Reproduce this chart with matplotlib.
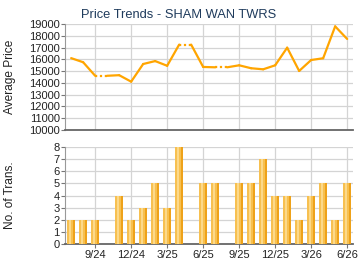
import numpy as np
import matplotlib.pyplot as plt

plt.rcParams['font.family'] = ['Liberation Sans', 'DejaVu Sans']

months = ['7/24', '8/24', '9/24', '10/24', '11/24', '12/24', '1/25', '2/25', '3/25',
          '4/25', '5/25', '6/25', '7/25', '8/25', '9/25', '10/25', '11/25', '12/25',
          '1/26', '2/26', '3/26', '4/26', '5/26', '6/26']
# None = no transactions that month
price = [16100, 15750, 14600, None, 14650, 14100, 15600, 15850, 15450,
         17250, None, 15350, 15320, None, 15490, 15240, 15150, 15490,
         16990, 15010, 15940, 16090, 18800, 17730]
trans = [2, 2, 2, 0, 4, 2, 3, 5, 3, 8, 0, 5, 5, 0, 5, 5, 7, 4, 4, 2, 4, 5, 2, 5]
tick_labels = ['9/24', '12/24', '3/25', '6/25', '9/25', '12/25', '3/26', '6/26']

x = np.arange(len(months))
ticks = [months.index(t) for t in tick_labels]

fig = plt.figure(figsize=(3.6, 2.7), dpi=100)
ax1 = fig.add_axes([0.181, 0.519, 0.80, 0.392])
ax2 = fig.add_axes([0.181, 0.096, 0.80, 0.359])

grid_c = '#d4d4d4'
line_c = '#ffa500'
txt_c = '#222222'

# price line: missing month shown dotted at previous value
for i in range(len(x) - 1):
    a = price[i]
    b = price[i + 1]
    if a is None:
        continue
    if b is None:
        ax1.plot([x[i], x[i + 1]], [a, a], color=line_c, lw=1.6, ls=(0, (1, 1.2)))
        if i + 2 < len(x) and price[i + 2] is not None:
            ax1.plot([x[i + 1], x[i + 2]], [a, price[i + 2]], color=line_c, lw=1.6,
                     solid_capstyle='round')
    else:
        ax1.plot([x[i], x[i + 1]], [a, b], color=line_c, lw=1.6, solid_capstyle='round')

ax1.set_xlim(-0.5, len(x) - 0.5)
ax1.set_ylim(10000, 19000)
ax1.set_yticks(range(10000, 19001, 1000))
ax1.set_xticks(ticks)
ax1.set_xticklabels([])
fig.text(0.497, 0.944, 'Price Trends - SHAM WAN TWRS', fontsize=9.3, color='#1f3b5c',
         ha='center', va='center')
ax1.set_ylabel('Average Price', fontsize=8.6, color=txt_c)
ax1.yaxis.set_label_coords(-0.17, 0.5)

# bars with a simple fake gradient
ax2.bar(x, trans, width=0.68, color='#eea21a', zorder=3)
ax2.bar(x - 0.06, trans, width=0.5, color='#f7c050', zorder=3)
ax2.bar(x - 0.12, trans, width=0.2, color='#fcd98a', zorder=3)
ax2.set_xlim(-0.5, len(x) - 0.5)
ax2.set_ylim(0, 8)
ax2.set_yticks(range(0, 9))
ax2.set_xticks(ticks)
ax2.set_xticklabels(tick_labels)
ax2.set_ylabel('No. of Trans.', fontsize=8.6, color=txt_c)
ax2.yaxis.set_label_coords(-0.17, 0.5)

for ax in (ax1, ax2):
    ax.grid(True, color=grid_c, lw=0.9)
    ax.set_axisbelow(True)
    for s in ('top', 'right'):
        ax.spines[s].set_visible(False)
    ax.spines['left'].set_color('#999999')
    ax.spines['bottom'].set_color('#666666')
    ax.spines['bottom'].set_linewidth(1.3)
    ax.tick_params(labelsize=8, colors=txt_c, length=3, width=0.8, pad=1)
    ax.tick_params(axis='both', color='#777777')
ax1.tick_params(axis='x', length=0)

plt.savefig('out.png', dpi=100)
